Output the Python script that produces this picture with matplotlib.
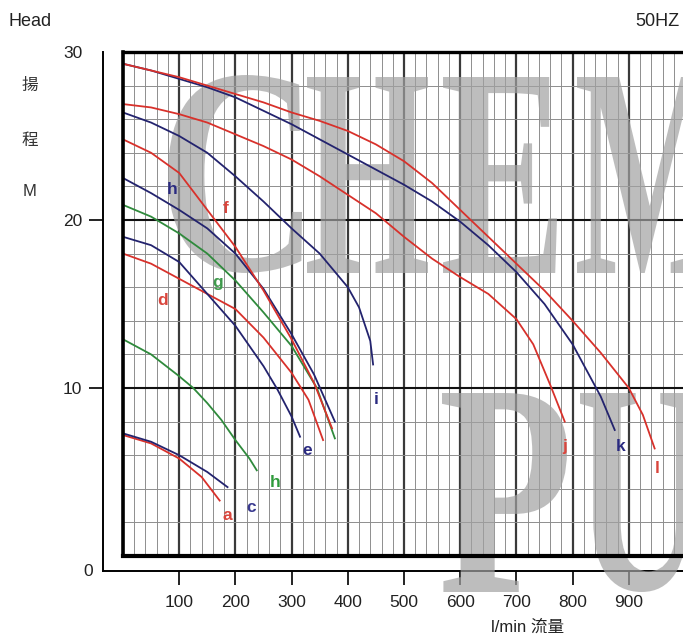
import numpy as np
import matplotlib
matplotlib.use("Agg")
import matplotlib.pyplot as plt
from matplotlib.textpath import TextPath
from matplotlib.patches import PathPatch
from matplotlib.font_manager import FontProperties
from matplotlib.transforms import Affine2D

# --- curve data: flow (l/min) vs head (m) ---
a_q = [0, 50, 100, 140, 172]
a_h = [7.2, 6.7, 5.8, 4.7, 3.3]
c_q = [0, 50, 100, 150, 186]
c_h = [7.3, 6.8, 6.0, 5.0, 4.1]
h2_q = [0, 50, 100, 125, 150, 175, 200, 225, 238]
h2_h = [12.9, 12.0, 10.7, 10.0, 9.1, 8.1, 6.9, 5.8, 5.1]
d_q = [0, 50, 100, 150, 200, 250, 300, 330, 356]
d_h = [18.0, 17.4, 16.5, 15.6, 14.7, 13.0, 10.9, 9.3, 6.9]
e_q = [0, 50, 100, 150, 200, 250, 275, 300, 315]
e_h = [19.0, 18.5, 17.5, 15.6, 13.7, 11.3, 9.9, 8.3, 7.1]
g_q = [0, 50, 100, 150, 200, 250, 300, 345, 377]
g_h = [20.9, 20.2, 19.2, 18.0, 16.4, 14.5, 12.5, 10.0, 7.0]
h1_q = [0, 50, 100, 150, 200, 250, 300, 340, 377]
h1_h = [22.5, 21.6, 20.6, 19.5, 18.0, 15.9, 13.2, 10.8, 8.0]
f_q = [0, 50, 100, 150, 200, 250, 300, 340, 372]
f_h = [24.8, 24.0, 22.8, 20.6, 18.4, 15.8, 12.9, 10.3, 7.6]
i_q = [0, 50, 100, 150, 200, 250, 300, 350, 400, 420, 440, 445]
i_h = [26.4, 25.8, 25.0, 24.0, 22.6, 21.1, 19.5, 18.0, 16.0, 14.8, 12.8, 11.4]
j_q = [0, 50, 100, 150, 200, 250, 300, 350, 400, 450, 500, 550, 600, 650, 700, 730, 760, 786]
j_h = [26.9, 26.7, 26.3, 25.8, 25.1, 24.4, 23.6, 22.6, 21.5, 20.4, 19.0, 17.7, 16.6, 15.6, 14.1, 12.6, 10.2, 8.0]
k_q = [0, 50, 100, 150, 200, 250, 300, 350, 400, 450, 500, 550, 600, 650, 700, 750, 800, 850, 875]
k_h = [29.3, 28.9, 28.4, 27.9, 27.3, 26.5, 25.7, 24.8, 23.9, 23.0, 22.1, 21.1, 19.9, 18.5, 16.9, 15.0, 12.6, 9.5, 7.5]
l_q = [0, 50, 100, 150, 200, 250, 300, 350, 400, 450, 500, 550, 600, 650, 700, 750, 800, 850, 900, 925, 946]
l_h = [29.3, 28.9, 28.5, 28.0, 27.5, 27.0, 26.4, 25.9, 25.3, 24.5, 23.5, 22.2, 20.6, 19.0, 17.4, 15.8, 14.0, 12.1, 10.0, 8.4, 6.4]

RED, NAVY, GREEN = "#d8312b", "#23236e", "#2f8a3c"

curves = [
    (a_q, a_h, RED), (c_q, c_h, NAVY), (h2_q, h2_h, GREEN),
    (d_q, d_h, RED), (e_q, e_h, NAVY), (g_q, g_h, GREEN),
    (h1_q, h1_h, NAVY), (f_q, f_h, RED), (i_q, i_h, NAVY),
    (j_q, j_h, RED), (k_q, k_h, NAVY), (l_q, l_h, RED),
]

# curve letters and where they sit
label_text = ["a", "c", "h", "d", "e", "g", "h", "f", "i", "j", "k", "l"]
label_q = [185, 228, 270, 71, 327, 169, 87, 183, 450, 786, 886, 950]
label_h = [2.4, 2.9, 4.4, 15.2, 6.3, 16.3, 21.8, 20.7, 9.3, 6.5, 6.5, 5.2]
label_col = ["#d9453c", "#3a3a90", "#2f9a3c", "#d9453c", "#2a2a80", "#3f9a4c",
             "#2a2a80", "#d9453c", "#2a2a80", "#d9453c", "#2a2a80", "#d9453c"]

x_ticks = [100, 200, 300, 400, 500, 600, 700, 800, 900]
y_ticks = [10, 20, 30]

# --- layout in pixels ---
W, H = 683, 640
X0, PX_PER_Q = 123, 0.562      # inner frame left, px per l/min
Y0, PX_PER_M = 556, 16.8       # inner frame bottom, px per metre
TOP = 52

plt.rcParams["font.family"] = ["Liberation Sans", "Noto Sans CJK TC"]

fig = plt.figure(figsize=(W / 100, H / 100), dpi=100)

# outer (offset) axis with the tick labels
OX, OY = 103, 571
axo = fig.add_axes([OX / W, (H - OY) / H, (W - OX) / W, (OY - TOP) / H])
axo.set_facecolor("none")
axo.set_xlim((OX - X0) / PX_PER_Q, (W - X0) / PX_PER_Q)
axo.set_ylim((Y0 - OY) / PX_PER_M, 30)
for s in ["top", "right"]:
    axo.spines[s].set_visible(False)
for s in ["left", "bottom"]:
    axo.spines[s].set_linewidth(1.4)
axo.set_xticks(x_ticks)
axo.set_yticks(y_ticks)
axo.tick_params(direction="out", length=10, width=1.4, labelsize=12.5,
                colors="#222222", pad=5)
axo.tick_params(axis="x", pad=7)
axo.yaxis.get_major_ticks()[-1].tick1line.set_visible(False)

# inner grid chart
ax = fig.add_axes([X0 / W, (H - Y0) / H, (W - X0) / W, (Y0 - TOP) / H])
ax.set_xlim(0, (W - X0) / PX_PER_Q)
ax.set_ylim(0, 30)
ax.set_xticks(np.arange(0, 1000, 100))
ax.set_xticks(np.arange(0, 1000, 20), minor=True)
ax.set_yticks([0, 10, 20, 30])
ax.set_yticks(np.arange(0, 31, 2), minor=True)
ax.tick_params(which="both", length=0, labelbottom=False, labelleft=False)
ax.set_axisbelow(True)
ax.grid(which="minor", color="#8e8e8e", lw=0.7)
ax.xaxis.grid(True, which="major", color="#3a3a3a", lw=1.6)
ax.yaxis.grid(True, which="major", color="#111111", lw=1.5)
ax.spines["right"].set_visible(False)
ax.spines["left"].set_linewidth(2.6)
ax.spines["top"].set_linewidth(2.4)
ax.spines["bottom"].set_linewidth(3.0)

# watermark letters (bounding boxes in pixels: left, right, top, bottom)
wm_font = FontProperties(family="Liberation Serif", weight="bold")
wm_letters = [("C", 168, 302, 75, 273), ("H", 307, 428, 77, 273),
              ("E", 443, 557, 77, 273), ("M", 577, 724, 77, 273),
              ("P", 442, 567, 393, 592), ("U", 580, 700, 393, 592)]
for ch, left, right, top, bottom in wm_letters:
    tp = TextPath((0, 0), ch, size=100, prop=wm_font)
    bb = tp.get_extents()
    tr = (Affine2D().translate(-bb.x0, -bb.y0)
          .scale((right - left) / bb.width, (bottom - top) / bb.height)
          .translate(left, H - bottom).scale(1 / W, 1 / H) + fig.transFigure)
    ax.add_artist(PathPatch(tp, transform=tr, fc="#a2a2a2", ec="none",
                            alpha=0.7, zorder=1.2, clip_on=False))

for q, hd, col in curves:
    ax.plot(q, hd, color=col, lw=1.3, zorder=2)

for t, q, hd, col in zip(label_text, label_q, label_h, label_col):
    ax.text(q, hd, t, color=col, fontsize=12.5, fontweight="bold",
            ha="center", va="center", zorder=3)

# text around the chart
fig.text(8 / W, 1 - 22 / H, "Head", fontsize=13, color="#222222", va="center")
fig.text(680 / W, 1 - 22 / H, "50HZ", fontsize=13, color="#222222",
         va="center", ha="right")
for t, py in [("揚", 85), ("程", 140), ("M", 192)]:
    fig.text(30 / W, 1 - py / H, t, fontsize=12, color="#333333",
             ha="center", va="center")
fig.text(88 / W, 1 - OY / H, "0", fontsize=12.5, color="#222222",
         ha="center", va="center")
fig.text(528 / W, 1 - 627 / H, "l/min 流量", fontsize=12, color="#222222",
         ha="center", va="center")

fig.savefig("out.png", dpi=100)
